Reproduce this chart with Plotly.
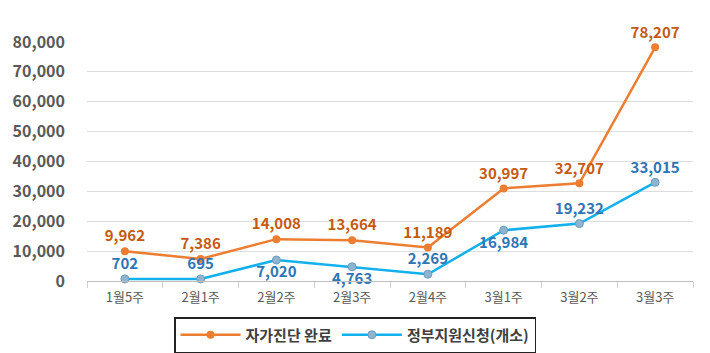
import plotly.graph_objects as go

categories = ["1월5주", "2월1주", "2월2주", "2월3주", "2월4주", "3월1주", "3월2주", "3월3주"]
self_diag = [9962, 7386, 14008, 13664, 11189, 30997, 32707, 78207]
gov_support = [702, 695, 7020, 4763, 2269, 16984, 19232, 33015]
gov_label_pos = ["top center", "top center", "bottom center", "bottom center",
                 "top center", "bottom center", "top center", "top center"]
y_ticks = [0, 10000, 20000, 30000, 40000, 50000, 60000, 70000, 80000]

font_family = "Noto Sans CJK KR"

fig = go.Figure()
fig.add_trace(go.Scatter(
    x=categories, y=self_diag, name="자가진단 완료",
    mode="lines+markers+text",
    line=dict(color="#ED7D31", width=2.5),
    marker=dict(color="#ED7D31", size=8),
    text=[f"{v:,}" for v in self_diag], textposition="top center",
    textfont=dict(color="#C55A11", size=15, family=font_family, weight="bold"),
    cliponaxis=False,
))
fig.add_trace(go.Scatter(
    x=categories, y=gov_support, name="정부지원신청(개소)",
    mode="lines+markers+text",
    line=dict(color="#12B0EC", width=2.5),
    marker=dict(color="#8FB4CF", size=8, line=dict(color="#6A9BC0", width=1)),
    text=[f"{v:,}" for v in gov_support], textposition=gov_label_pos,
    textfont=dict(color="#2E75B6", size=15, family=font_family, weight="bold"),
    cliponaxis=False,
))

fig.update_layout(
    width=710, height=353,
    margin=dict(l=87, r=17, t=42, b=72, autoexpand=False),
    paper_bgcolor="white", plot_bgcolor="white",
    font=dict(family=font_family, color="#595959"),
    showlegend=True,
    legend=dict(orientation="h", x=355 / 710, xref="container", xanchor="center",
                y=(353 - 317) / 353, yref="container", yanchor="top",
                bordercolor="#222222", borderwidth=1.5,
                font=dict(size=15, color="#404040", family=font_family, weight="bold"),
                itemwidth=60, tracegroupgap=0),
)
fig.update_xaxes(
    type="category", showgrid=False, showline=True, linecolor="#BFBFBF", linewidth=1,
    ticks="outside", tickson="boundaries", ticklen=6, tickcolor="#D0D0D0",
    tickfont=dict(size=13, color="#595959", family=font_family),
    ticklabelstandoff=4, automargin=False,
    range=[-0.5, 7.5],
)
fig.update_yaxes(
    range=[0, 80000], tickvals=y_ticks, ticktext=[f"{v:,}" for v in y_ticks],
    showgrid=True, gridcolor="#DDDDDD", gridwidth=1, zeroline=False,
    tickfont=dict(size=16, color="#595959", family=font_family, weight="bold"),
    ticks="", ticklabelstandoff=21, automargin=False,
)

fig.write_html("out.html")
